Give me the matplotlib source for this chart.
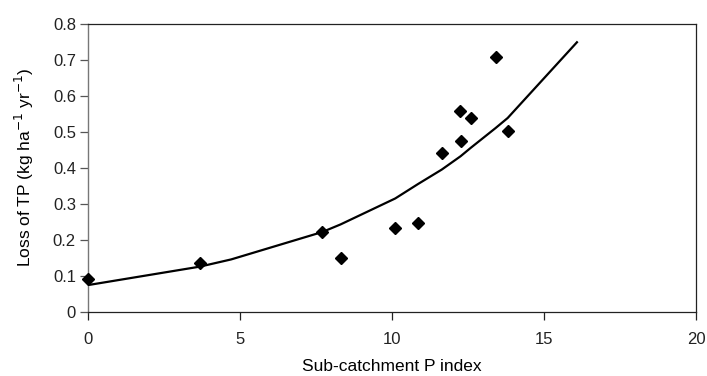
import numpy as np
import matplotlib
matplotlib.use("Agg")
import matplotlib.pyplot as plt

plt.rcParams['font.family'] = ['Liberation Sans', 'DejaVu Sans']

# observed sub-catchment values
p_index = [0.0, 3.67, 7.70, 8.31, 10.09, 10.85, 11.63, 12.24, 12.27, 12.58, 13.40, 13.80]
tp_loss = [0.092, 0.137, 0.222, 0.149, 0.232, 0.248, 0.440, 0.558, 0.474, 0.537, 0.708, 0.502]

# fitted curve
fit_x = [0.0, 3.67, 4.7, 7.7, 8.3, 10.1, 10.85, 11.63, 12.25, 12.58, 13.4, 13.8, 16.08]
fit_y = [0.075, 0.126, 0.146, 0.222, 0.243, 0.315, 0.355, 0.395, 0.432, 0.455, 0.51, 0.538, 0.748]

fig = plt.figure(figsize=(7.07, 3.76), dpi=100)
ax = fig.add_axes([0.125, 0.170, 0.8595, 0.7675])

ax.plot(fit_x, fit_y, color='black', lw=1.6, zorder=2)
ax.plot(p_index, tp_loss, 'D', color='black', markersize=6.5, zorder=3, clip_on=False)

ax.set_xlim(0, 20)
ax.set_ylim(0, 0.8)
ax.set_xticks([0, 5, 10, 15, 20])
ax.set_yticks(np.arange(0, 0.81, 0.1))
ax.set_yticklabels(['0', '0.1', '0.2', '0.3', '0.4', '0.5', '0.6', '0.7', '0.8'])

for s in ['top', 'right', 'bottom']:
    ax.spines[s].set_color('#222222')
    ax.spines[s].set_linewidth(0.9)
ax.spines['left'].set_color('#777777')
ax.spines['left'].set_linewidth(1.0)

ax.tick_params(axis='both', direction='out', length=6, width=0.9, labelsize=12, colors='#222222')
ax.tick_params(axis='y', color='#555555', pad=3)
ax.tick_params(axis='x', pad=8)

ax.set_xlabel('Sub-catchment P index', fontsize=12.5, labelpad=9)
ax.set_ylabel('Loss of TP (kg ha$^{-1}$ yr$^{-1}$)', fontsize=12.5, labelpad=12)

fig.savefig('out.png', dpi=100)
